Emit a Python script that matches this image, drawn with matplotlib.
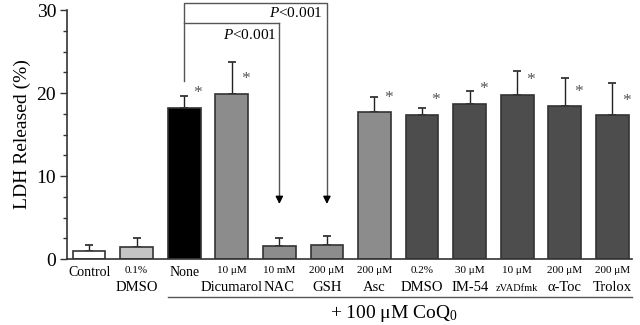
import numpy as np
import matplotlib
matplotlib.use("Agg")
import matplotlib.pyplot as plt
from matplotlib.transforms import blended_transform_factory

# datos
top_lines = ["", "0.1%", "", "10 μM", "10 mM", "200 μM", "200 μM", "0.2%", "30 μM", "10 μM", "200 μM", "200 μM"]
bottom_lines = ["Control", "DMSO", "None", "Dicumarol", "NAC", "GSH", "Asc", "DMSO", "IM-54", "zVADfmk", "α-Toc", "Trolox"]
values = [1.0, 1.5, 18.2, 19.9, 1.55, 1.7, 17.7, 17.4, 18.7, 19.8, 18.4, 17.3]
errors = [0.75, 1.0, 1.5, 3.9, 0.95, 1.1, 1.8, 0.75, 1.6, 2.9, 3.4, 3.9]
colors = ["#ffffff", "#c4c4c4", "#000000", "#8c8c8c", "#8c8c8c", "#8c8c8c",
          "#8c8c8c", "#4d4d4d", "#4d4d4d", "#4d4d4d", "#4d4d4d", "#4d4d4d"]
star = [False, False, True, True, False, False, True, True, True, True, True, True]

plt.rcParams['font.family'] = ['Liberation Serif', 'DejaVu Serif']
plt.rcParams['mathtext.fontset'] = 'custom'
plt.rcParams['mathtext.rm'] = 'Liberation Serif'
plt.rcParams['mathtext.it'] = 'Liberation Serif:italic'

fig = plt.figure(figsize=(6.4, 3.25), dpi=100)
ax = fig.add_axes([0.105, 0.203, 0.883, 0.766])

x = np.arange(len(values))
ax.bar(x, values, width=0.69, color=colors, edgecolor="#333333", linewidth=1.2, zorder=2)
ax.errorbar(x, values, yerr=[np.zeros(len(errors)), errors], fmt="none",
            ecolor="#222222", elinewidth=1, capsize=3, capthick=1.2, zorder=1)

for i in x:
    if star[i]:
        ax.text(i + 0.29, values[i] + 0.8, "*", ha="center", va="bottom",
                fontsize=12.5, color="#555555")

ax.set_xlim(-0.46, 11.42)
ax.set_ylim(0, 30)
ax.set_yticks([0, 10, 20, 30])
ax.set_yticks(np.arange(0, 30.1, 2.5), minor=True)
ax.tick_params(axis="y", which="major", length=5, width=1, labelsize=14, colors="#333333", labelcolor="black", pad=3)
ax.tick_params(axis="y", which="minor", length=3, width=1, colors="#333333")
ax.set_xticks([])
for s in ["top", "right"]:
    ax.spines[s].set_visible(False)
for s in ["left", "bottom"]:
    ax.spines[s].set_color("#333333")
    ax.spines[s].set_linewidth(1.2)
ax.set_ylabel("LDH Released (%)", fontsize=14, labelpad=4)

# etiquetas de dos lineas
tr = blended_transform_factory(ax.transData, ax.transAxes)
for i in x:
    if top_lines[i]:
        ax.text(i, -0.03, top_lines[i], transform=tr, ha="center", va="top", fontsize=8)
        fs = 7.5 if bottom_lines[i] == "zVADfmk" else 10.5
        ax.text(i, -0.127, bottom_lines[i], transform=tr, ha="center", va="baseline", fontsize=fs)
    else:
        ax.text(i, -0.03, bottom_lines[i], transform=tr, ha="center", va="top", fontsize=10)

# linea bajo los tratamientos con CoQ0
ax.plot([1.66, 11.42], [-0.153, -0.153], transform=tr, color="#555555", lw=1, clip_on=False)
ax.text(6.41, -0.178, r"+ 100 μM CoQ$_0$", transform=tr, ha="center", va="top", fontsize=14)

# corchetes de significancia
lc = "#555555"
ax.plot([2, 2, 5, 5], [21.5, 30.9, 30.9, 7.5], color=lc, lw=1, clip_on=False)
ax.plot([2, 4], [28.4, 28.4], color=lc, lw=1, clip_on=False)
ax.plot([4, 4], [28.4, 7.5], color=lc, lw=1)
for xa in [4, 5]:
    ax.annotate("", xy=(xa, 6.3), xytext=(xa, 7.6),
                arrowprops=dict(arrowstyle="-|>", color="black", lw=1, mutation_scale=11))
ax.text(3.94, 27.0, r"$\it{P}$<0.001", ha="right", va="center", fontsize=11)
ax.text(4.9, 29.7, r"$\it{P}$<0.001", ha="right", va="center", fontsize=11)

fig.savefig("out.png", dpi=100)
